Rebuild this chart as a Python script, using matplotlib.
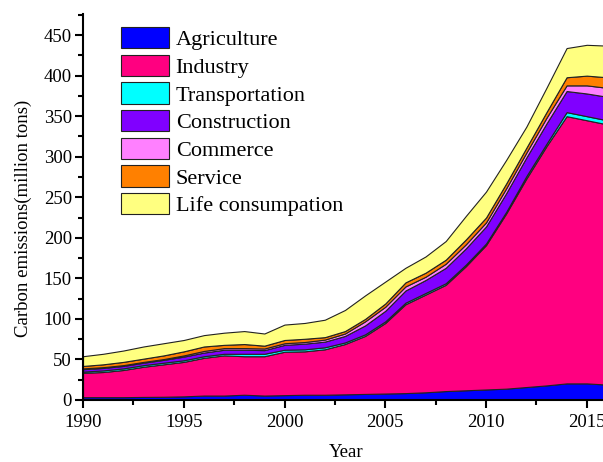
import numpy as np
import matplotlib
matplotlib.use("Agg")
import matplotlib.pyplot as plt
from matplotlib.ticker import MultipleLocator

plt.rcParams['font.family'] = ['Liberation Serif', 'DejaVu Serif']

years = list(range(1990, 2017))

# emissions by sector, million tons
agriculture = [3.5, 3.5, 3.5, 3.8, 4, 4.5, 5.5, 5.5, 6.5, 5.5, 6, 6.5, 6.5, 7,
               7.5, 8, 8.5, 9.5, 11, 12, 13, 14, 16, 18, 20.5, 20.5, 19]
industry = [30, 31, 33.5, 37.2, 40, 42.5, 46.5, 49.5, 47.5, 48.5, 53.5, 53.5, 56, 62,
            71.5, 87, 109.5, 120.5, 131, 153, 178, 216, 257, 295, 329.5, 324.5, 321]
transportation = [1.5, 2, 2, 2, 2, 2, 2, 2, 3, 3, 2.5, 2.5, 2.5, 2,
                  2, 2, 2, 2, 2, 2, 2, 2, 3, 3, 5, 5, 5]
construction = [3, 3, 3, 3, 3.5, 4.5, 4.5, 5, 5, 4.5, 6, 7, 7, 8,
                11, 13, 15, 16, 19, 20, 21, 23, 23, 25, 26, 28, 29]
commerce = [1, 1, 1, 1, 1, 1.5, 2, 2, 2, 2, 2, 2, 2.5, 3,
            5, 5, 5, 4, 5, 5, 5, 6, 6, 7, 7, 10, 11]
service = [3, 3.5, 4, 4, 4.5, 5, 5.5, 4, 5, 3.5, 4, 4, 3, 3,
           3, 4, 5, 5, 5, 6, 6, 6, 6, 7, 10, 12, 13]
life = [12, 13, 14, 15, 15, 14, 14, 15, 16, 15, 19, 19.5, 21.5, 26,
        29, 27, 18, 20, 23, 29, 32, 29, 26, 30, 36, 38, 39]

labels = ['Agriculture', 'Industry', 'Transportation', 'Construction',
          'Commerce', 'Service', 'Life consumpation']
colors = ['#0000FF', '#FF0080', '#00FFFF', '#8000FF', '#FF80FF', '#FF8000', '#FFFF80']

fig = plt.figure(figsize=(6.03, 4.62), dpi=100)
ax = fig.add_axes([83 / 603, 62 / 462, 520 / 603, 386 / 462])

ax.stackplot(years, agriculture, industry, transportation, construction,
             commerce, service, life, labels=labels, colors=colors,
             edgecolor='#222222', linewidth=0.8)

ax.set_xlim(1990, 1990 + 520 / 20.15)
ax.set_ylim(0, 476)
ax.xaxis.set_major_locator(MultipleLocator(5))
ax.xaxis.set_minor_locator(MultipleLocator(2.5))
ax.yaxis.set_major_locator(MultipleLocator(50))
ax.yaxis.set_minor_locator(MultipleLocator(25))

for s in ['top', 'right']:
    ax.spines[s].set_visible(False)
for s in ['left', 'bottom']:
    ax.spines[s].set_linewidth(1.5)

ax.tick_params(which='major', direction='out', length=6, width=1.5, labelsize=13.5)
ax.tick_params(which='minor', direction='out', length=3.5, width=1.5)
ax.tick_params(axis='y', pad=2)
ax.tick_params(axis='x', pad=4)

ax.set_xlabel('Year', fontsize=13.5)
ax.set_ylabel('Carbon emissions(million tons)', fontsize=13.5)
ax.xaxis.set_label_coords(0.506, -0.115)
ax.yaxis.set_label_coords(-0.098, 0.47)

leg = ax.legend(loc='upper left', bbox_to_anchor=(121 / 603, 1 - 27 / 462),
                bbox_transform=fig.transFigure, frameon=False, fontsize=16,
                borderpad=0, borderaxespad=0, handlelength=2.16, handleheight=1.1,
                labelspacing=0.2, handletextpad=0.3)
for h in leg.legend_handles:
    h.set_edgecolor('#222222')
    h.set_linewidth(0.8)

fig.savefig('out.png', dpi=100)
